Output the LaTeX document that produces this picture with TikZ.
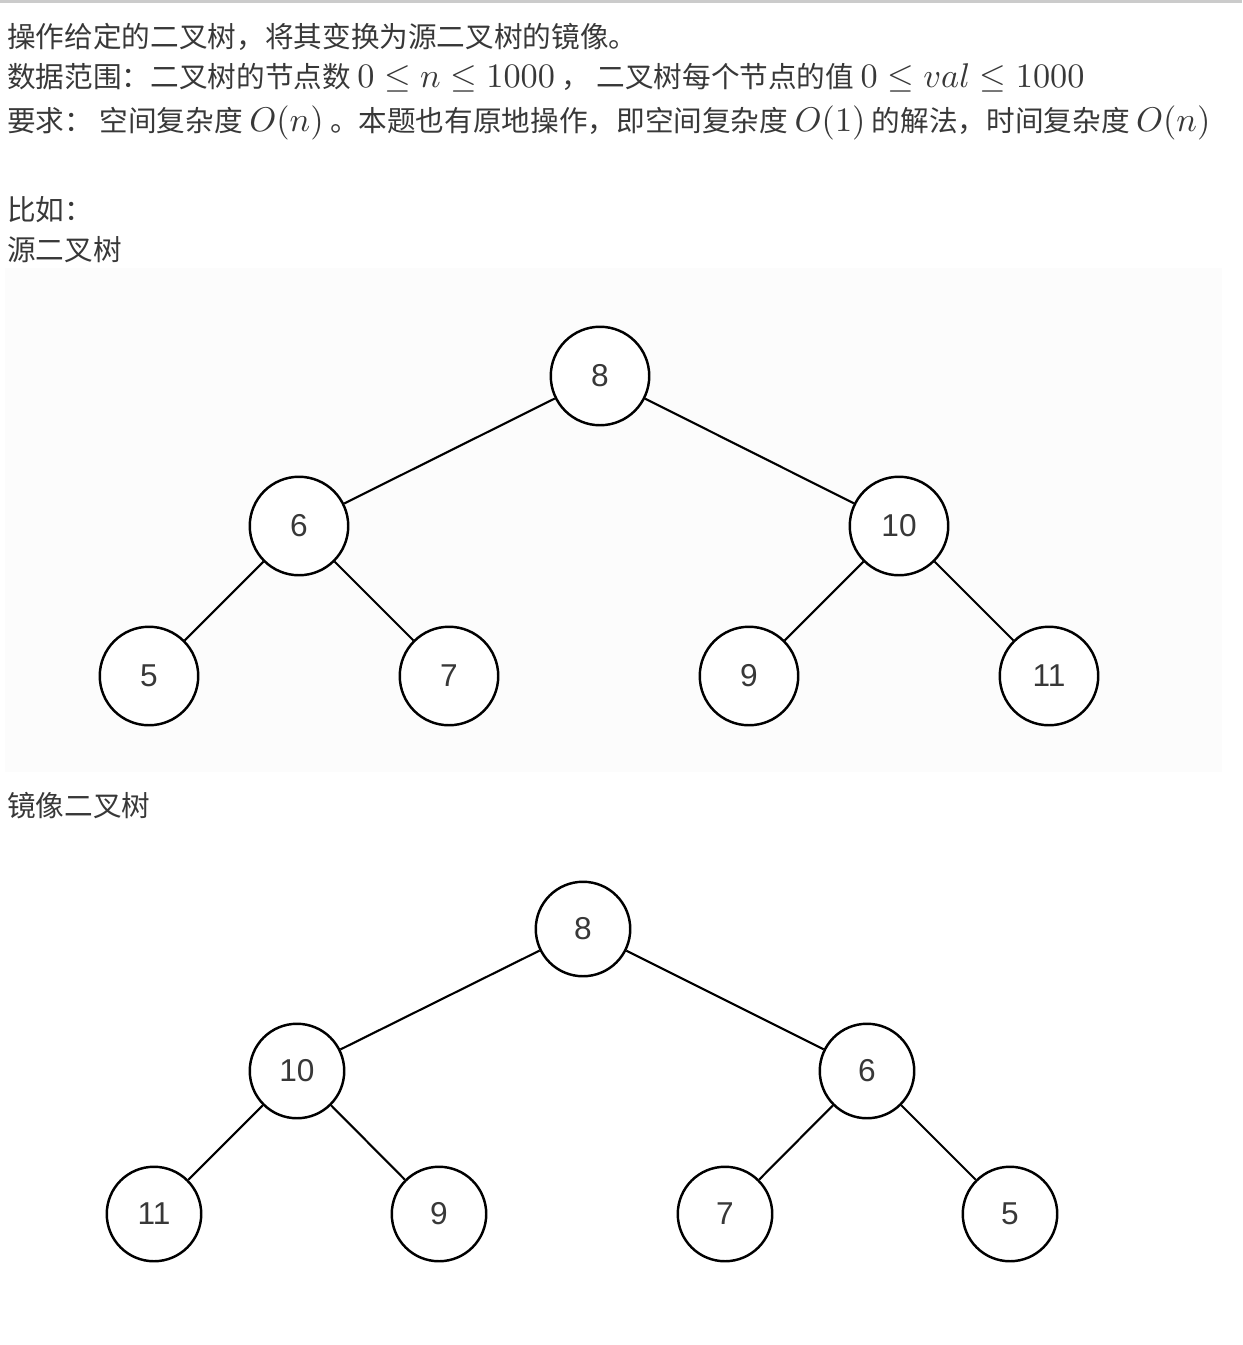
\documentclass[tikz,border=0pt]{standalone}
\usepackage{fontspec}
\usepackage{tikz}
\DeclareFontShape{OT1}{cmr}{m}{n}{<->cmr10}{}
\DeclareFontShape{OML}{cmm}{m}{it}{<->cmmi10}{}
\DeclareFontShape{OMS}{cmsy}{m}{n}{<->cmsy10}{}
\newfontfamily\cjk{Noto Sans CJK SC}
\newfontfamily\numfont{Liberation Sans}
\definecolor{txtgray}{HTML}{383838}
\definecolor{bargray}{HTML}{CBCBCB}
\definecolor{panelgray}{HTML}{FCFCFC}
\newcommand\mth[1]{{\fontsize{19.5}{20}\selectfont$#1$}}
\tikzset{
  textline/.style={anchor=base west, inner sep=0pt, text=txtgray, font=\cjk\fontsize{16.3}{16}\selectfont},
  bignode/.style={circle, draw=black, fill=white, line width=1.4pt, minimum size=1.97cm, inner sep=0pt, text=txtgray, font=\numfont\fontsize{18}{18}\selectfont},
  smallnode/.style={bignode, minimum size=1.89cm},
  edge/.style={line width=1.2pt}
}

\begin{document}
\begin{tikzpicture}[x=0.02cm, y=-0.02cm]
                    \useasboundingbox (0,0) rectangle (1242,1345);
                    \fill[bargray] (0,0) rectangle (1242,3);

                    \node[textline] (l1) at (7,48) {操作给定的二叉树，将其变换为源二叉树的镜像。};
                    \node[textline] (l2) at (7,88) {数据范围：二叉树的节点数 \mth{0\leq n\leq 1000} ， 二叉树每个节点的值 \mth{0\leq val\leq 1000}};
                    \node[textline] (l3) at (7,132) {要求： 空间复杂度 \mth{O(n)} 。本题也有原地操作，即空间复杂度 \mth{O(1)} 的解法，时间复杂度 \mth{O(n)}};
                    \node[textline] (eg) at (7,220) {比如：};
                    \node[textline] (src) at (7,260) {源二叉树};
                    \node[textline] (mir) at (7,816) {镜像二叉树};

                    % source tree
                    \fill[panelgray] (5,268) rectangle (1222,772);
                    \node[bignode] (s8) at (600,376) {8};
                    \node[bignode] (s6) at (299,526) {6};
                    \node[bignode] (s10) at (899,526) {10};
                    \node[bignode] (s5) at (149,676) {5};
                    \node[bignode] (s7) at (449,676) {7};
                    \node[bignode] (s9) at (749,676) {9};
                    \node[bignode] (s11) at (1049,676) {11};
                    \draw[edge] (s8) -- (s6);
                    \draw[edge] (s8) -- (s10);
                    \draw[edge] (s6) -- (s5);
                    \draw[edge] (s6) -- (s7);
                    \draw[edge] (s10) -- (s9);
                    \draw[edge] (s10) -- (s11);

                    % mirror tree
                    \node[smallnode] (m8) at (583,929) {8};
                    \node[smallnode] (m10) at (297,1071) {10};
                    \node[smallnode] (m6) at (867,1071) {6};
                    \node[smallnode] (m11) at (154,1214) {11};
                    \node[smallnode] (m9) at (439,1214) {9};
                    \node[smallnode] (m7) at (725,1214) {7};
                    \node[smallnode] (m5) at (1010,1214) {5};
                    \draw[edge] (m8) -- (m10);
                    \draw[edge] (m8) -- (m6);
                    \draw[edge] (m10) -- (m11);
                    \draw[edge] (m10) -- (m9);
                    \draw[edge] (m6) -- (m7);
                    \draw[edge] (m6) -- (m5);

                \end{tikzpicture}
\end{document}
